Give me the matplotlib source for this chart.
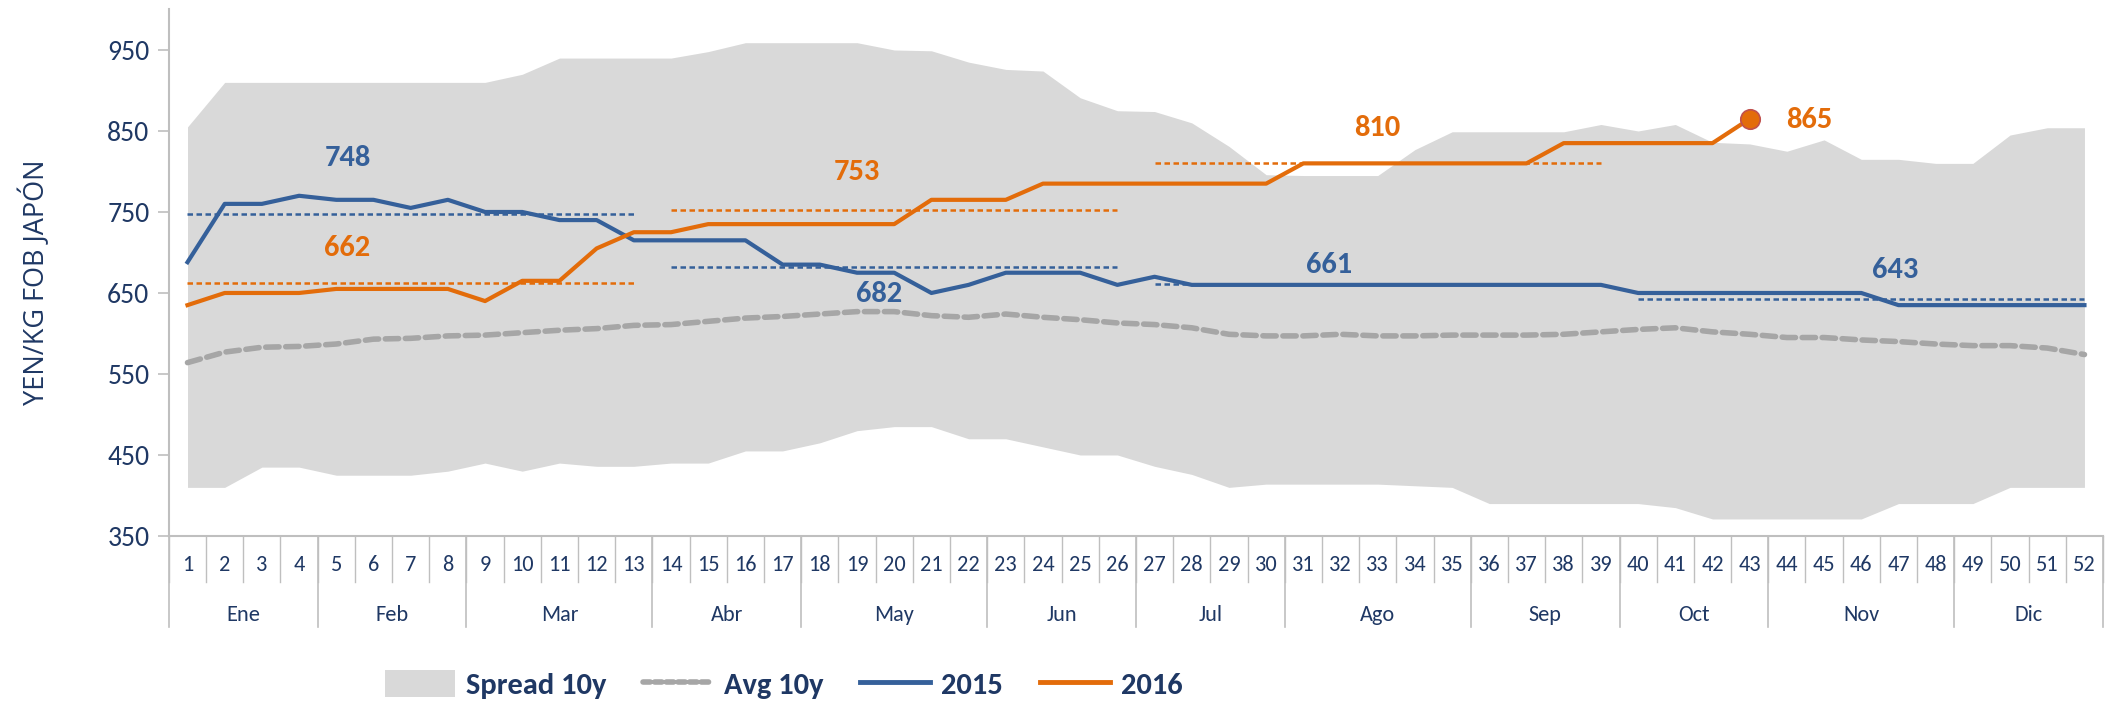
import matplotlib
matplotlib.use("Agg")
import matplotlib.pyplot as plt
import matplotlib.transforms as mtransforms
from matplotlib import font_manager
from matplotlib.patches import Patch
from matplotlib.lines import Line2D
import numpy as np

# =================================================
# DATA
# =================================================
weeks = list(range(1, 53))

spread_low = [410, 410, 435, 435, 425, 425, 425, 430, 440, 430, 440, 436, 436, 440,
              440, 455, 455, 465, 480, 485, 485, 470, 470, 460, 450, 450, 436, 426,
              410, 414, 414, 414, 414, 412, 410, 390, 390, 390, 390, 390, 385, 371,
              371, 371, 371, 371, 390, 390, 390, 410, 410, 410]
spread_high = [855, 910, 910, 910, 910, 910, 910, 910, 910, 920, 940, 940, 940, 940,
               948, 959, 959, 959, 959, 950, 949, 935, 926, 924, 891, 875, 874, 860,
               831, 796, 795, 795, 795, 827, 849, 849, 849, 849, 858, 850, 858, 836,
               834, 825, 839, 815, 815, 810, 810, 845, 854, 854]
avg_10y = [564, 577, 583, 584, 587, 593, 594, 597, 598, 601, 604, 606, 610, 611,
           615, 619, 621, 624, 627, 627, 622, 620, 624, 620, 617, 613, 611, 607,
           599, 597, 597, 599, 597, 597, 598, 598, 598, 599, 602, 605, 607, 602,
           599, 595, 595, 592, 590, 587, 585, 585, 582, 574]
y2015 = [688, 760, 760, 770, 765, 765, 755, 765, 750, 750, 740, 740, 715, 715,
         715, 715, 685, 685, 675, 675, 650, 660, 675, 675, 675, 660, 670, 660,
         660, 660, 660, 660, 660, 660, 660, 660, 660, 660, 660, 650, 650, 650,
         650, 650, 650, 650, 635, 635, 635, 635, 635, 635]
y2016 = [635, 650, 650, 650, 655, 655, 655, 655, 640, 665, 665, 705, 725, 725,
         735, 735, 735, 735, 735, 735, 765, 765, 765, 785, 785, 785, 785, 785,
         785, 785, 810, 810, 810, 810, 810, 810, 810, 835, 835, 835, 835, 835, 865]

# quarterly averages: (first week, last week, value)
q2015 = [(1, 13, 748), (14, 26, 682), (27, 39, 661), (40, 52, 643)]
q2016 = [(1, 13, 662), (14, 26, 753), (27, 39, 810)]

# value labels: (week, y, text)
lbl2015 = [(5.3, 817, "748"), (19.6, 649, "682"), (31.7, 685, "661"), (46.9, 678, "643")]
lbl2016 = [(5.3, 705, "662"), (19.0, 799, "753"), (33.0, 854, "810")]
last2016 = (44.6, 863, "865")

months = ["Ene", "Feb", "Mar", "Abr", "May", "Jun", "Jul", "Ago", "Sep", "Oct", "Nov", "Dic"]
month_weeks = [4, 4, 5, 4, 5, 4, 4, 5, 4, 4, 5, 4]

# =================================================
# STYLE
# =================================================
def pick_font(cands):
    names = {f.name for f in font_manager.fontManager.ttflist}
    for c in cands:
        if c in names:
            return c
    return "DejaVu Sans"

main_font = pick_font(["Carlito", "Liberation Sans Narrow", "Lato", "DejaVu Sans"])
plt.rcParams['font.family'] = [main_font, 'DejaVu Sans']

col_spread = '#D9D9D9'
col_avg = '#A6A6A6'
col_2015 = '#35609A'
col_2016 = '#E36C0A'
col_text = '#1F3864'
col_axis = '#BFBFBF'

# =================================================
# PLOT
# =================================================
fig = plt.figure(figsize=(21.06, 7.02), dpi=100)
ax = fig.add_axes([0.0802, 0.2365, 0.9184, 0.750])

ax.fill_between(weeks, spread_low, spread_high, color=col_spread, linewidth=0, zorder=1)
ax.plot(weeks, avg_10y, color=col_avg, linewidth=4, dashes=(2.4, 1.2),
        dash_capstyle='round', zorder=2)

for a, b, v in q2015:
    ax.plot([a, b], [v, v], color=col_2015, linewidth=1.8, dashes=(2.2, 1.4), zorder=3)
for a, b, v in q2016:
    ax.plot([a, b], [v, v], color=col_2016, linewidth=1.8, dashes=(2.2, 1.4), zorder=3)

ax.plot(weeks, y2015, color=col_2015, linewidth=3, zorder=4)
ax.plot(weeks[:len(y2016)], y2016, color=col_2016, linewidth=3, zorder=5)
ax.plot(weeks[len(y2016) - 1], y2016[-1], marker='o', markersize=14,
        markerfacecolor=col_2016, markeredgecolor='#C0504D', markeredgewidth=1.2, zorder=6)

for x, y, t in lbl2015:
    ax.text(x, y, t, color=col_2015, fontsize=22, fontweight='bold', ha='center', va='center')
for x, y, t in lbl2016:
    ax.text(x, y, t, color=col_2016, fontsize=22, fontweight='bold', ha='center', va='center')
ax.text(last2016[0], last2016[1], last2016[2], color=col_2016, fontsize=22,
        fontweight='bold', ha='center', va='center')

# axes
ax.set_xlim(0.5, 52.5)
ax.set_ylim(350, 1000)
ax.set_yticks(range(350, 951, 100))
ax.tick_params(axis='y', colors=col_axis, labelcolor=col_text, labelsize=20,
               length=8, width=1.2, pad=6)
ax.set_xticks(weeks)
ax.set_xticklabels([str(w) for w in weeks])
ax.tick_params(axis='x', length=0, labelcolor=col_text, labelsize=16, pad=14)
for s in ['top', 'right']:
    ax.spines[s].set_visible(False)
for s in ['left', 'bottom']:
    ax.spines[s].set_color(col_axis)
    ax.spines[s].set_linewidth(1.5)

ax.set_ylabel("YEN/KG FOB JAPÓN", fontsize=19.5, color=col_text,
              family=[pick_font(["Open Sans", "DejaVu Sans"]), 'DejaVu Sans'])
ax.yaxis.set_label_coords(-0.061, 0.482)

# two-level category axis
trans = mtransforms.blended_transform_factory(ax.transData, ax.transAxes)
for k in range(53):
    ax.plot([k + 0.5, k + 0.5], [0, -0.087], color=col_axis, linewidth=1.0,
            transform=trans, clip_on=False)
start = 0.5
for name, n in zip(months, month_weeks):
    ax.plot([start, start], [0, -0.173], color=col_axis, linewidth=1.2,
            transform=trans, clip_on=False)
    ax.text(start + n / 2, -0.150, name, transform=trans, ha='center', va='center',
            fontsize=16, color=col_text)
    start += n
ax.plot([start, start], [0, -0.173], color=col_axis, linewidth=1.2,
        transform=trans, clip_on=False)

# legend
handles = [
    Patch(facecolor=col_spread, edgecolor='none', label='Spread 10y'),
    Line2D([], [], color=col_avg, linewidth=4, dashes=(1.3, 0.8), dash_capstyle='round', label='Avg 10y'),
    Line2D([], [], color=col_2015, linewidth=3.5, label='2015'),
    Line2D([], [], color=col_2016, linewidth=3.5, label='2016'),
]
leg = fig.legend(handles=handles, loc='center', bbox_to_anchor=(0.372, 0.025), ncol=4,
                 frameon=False, handlelength=2.3, handleheight=1.0,
                 handletextpad=0.35, columnspacing=1.2,
                 prop={'weight': 'bold', 'size': 22})
for t in leg.get_texts():
    t.set_color(col_text)

fig.savefig("out.png", dpi=100)
